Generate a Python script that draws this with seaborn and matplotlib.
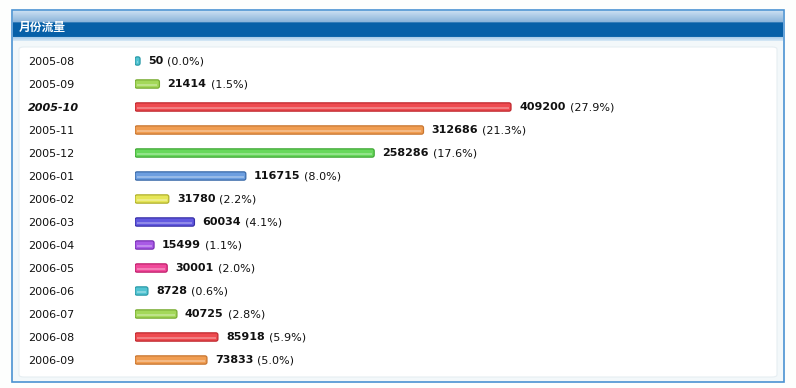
import numpy as np
import matplotlib
matplotlib.use('Agg')
import matplotlib.pyplot as plt
import seaborn as sns
from matplotlib.patches import Rectangle, FancyBboxPatch

# Data
months = ['2005-08', '2005-09', '2005-10', '2005-11', '2005-12', '2006-01', '2006-02',
          '2006-03', '2006-04', '2006-05', '2006-06', '2006-07', '2006-08', '2006-09']
visits = [50, 21414, 409200, 312686, 258286, 116715, 31780,
          60034, 15499, 30001, 8728, 40725, 85918, 73833]
percents = ['0.0', '1.5', '27.9', '21.3', '17.6', '8.0', '2.2',
            '4.1', '1.1', '2.0', '0.6', '2.8', '5.9', '5.0']
highlight = '2005-10'

bar_colors = ['#52c4d2', '#a4d85a', '#ee4b50', '#f09d52', '#68d85c', '#6c9ee0', '#e6e658',
              '#6259e0', '#a95ae6', '#f04a9a', '#52c4d2', '#a4d85a', '#ee4b50', '#f09d52']
edge_colors = ['#2b9aa8', '#78ac32', '#c0292f', '#c87630', '#40a836', '#3a6aa8', '#b0b02c',
               '#3830a8', '#7830b4', '#c01e6c', '#2b9aa8', '#78ac32', '#c0292f', '#c87630']

sns.set_theme(style='white')
plt.rcParams['font.family'] = ['DejaVu Sans', 'Noto Sans CJK SC']

W, H = 796, 388
fig = plt.figure(figsize=(W / 100, H / 100), dpi=100)
fig.patch.set_facecolor('#fdfefd')


def fx(px):
    return px / W


def fy(py):
    return 1 - py / H


# outer panel
fig.patches.append(Rectangle((fx(12), fy(382)), fx(772), 372 / H, transform=fig.transFigure,
                             facecolor='#f3f8fa', edgecolor='#4b92d2', lw=1.2, zorder=-2))
# inner white box
fig.patches.append(FancyBboxPatch((fx(19), fy(377)), fx(758), 330 / H, transform=fig.transFigure,
                                  boxstyle='round,pad=0,rounding_size=0.006',
                                  facecolor='#ffffff', edgecolor='#e6eef2', lw=0.8, zorder=-1))

# header gradient (one row per pixel, top to bottom y=11..41)
light_top = np.linspace([0.80, 0.88, 0.95], [0.55, 0.71, 0.86], 12)
dark = np.tile([0.03, 0.38, 0.66], (14, 1))
light_bot = np.linspace([0.68, 0.81, 0.92], [0.82, 0.90, 0.96], 4)
grad = np.vstack([light_top, dark, light_bot])
hax = fig.add_axes([fx(13), fy(41), fx(770), 30 / H])
hax.imshow(grad[:, None, :], aspect='auto', extent=(0, 1, 0, 1))
hax.set_axis_off()
fig.text(fx(19), fy(27), '月份流量', color='white', fontsize=8.5, fontweight='bold',
         family=['Noto Sans CJK SC', 'DejaVu Sans'], va='center', ha='left')

# bar chart area
row_h = 23
top = 61 - row_h / 2
ax = fig.add_axes([fx(135), fy(top + row_h * len(months)), fx(640), row_h * len(months) / H])
px_per_unit = 371 / 409200
sns.barplot(x=visits, y=months, orient='h', hue=months, palette=bar_colors, legend=False,
            width=0.36, ax=ax, saturation=1)
ax.set_xlim(0, 640 / px_per_unit)
ax.set_ylim(len(months) - 0.5, -0.5)

# swap the plain rectangles for rounded bars with a small end cap and a highlight
cap_px = 5
ux = 1 / px_per_unit          # data units per pixel along x
uy = 1 / row_h                # data units per pixel along y
bars = list(ax.patches)
for p, fc, ec in zip(bars, bar_colors, edge_colors):
    x0, y0, w, h = p.get_x(), p.get_y(), p.get_width(), p.get_height()
    p.remove()
    ax.add_patch(FancyBboxPatch((x0, y0), w + cap_px * ux, h,
                                boxstyle=f'round,pad=0,rounding_size={2 * ux}',
                                mutation_aspect=uy / ux,
                                facecolor=fc, edgecolor=ec, lw=0.9, zorder=2))
    ax.plot([x0 + 2 * ux, x0 + w + (cap_px - 2) * ux], [y0 + h * 0.68, y0 + h * 0.68],
            color='white', alpha=0.35, lw=1.2, solid_capstyle='butt', zorder=3)

ax.set_facecolor('none')
for s in ax.spines.values():
    s.set_visible(False)
ax.set_xticks([])
ax.set_xlabel('')
ax.set_ylabel('')
ax.tick_params(axis='y', length=0, pad=(135 - 28) * 0.72)
for lab in ax.get_yticklabels():
    lab.set_ha('left')
    lab.set_fontsize(8)
    lab.set_color('#111111')
    if lab.get_text() == highlight:
        lab.set_fontweight('bold')
        lab.set_fontstyle('italic')

fig.canvas.draw()
renderer = fig.canvas.get_renderer()
gap = (cap_px + 8) * 0.72
for i, (v, p) in enumerate(zip(visits, percents)):
    t = ax.annotate(str(v), (v, i), xytext=(gap, 0), textcoords='offset points',
                    fontsize=8, fontweight='bold', color='#111111', va='center', ha='left')
    bb = t.get_window_extent(renderer)
    wpt = bb.width * 72 / fig.dpi
    ax.annotate(f'({p}%)', (v, i), xytext=(gap + wpt + 3, 0), textcoords='offset points',
                fontsize=8, color='#111111', va='center', ha='left')

fig.savefig('out.png', dpi=100, facecolor=fig.get_facecolor())
